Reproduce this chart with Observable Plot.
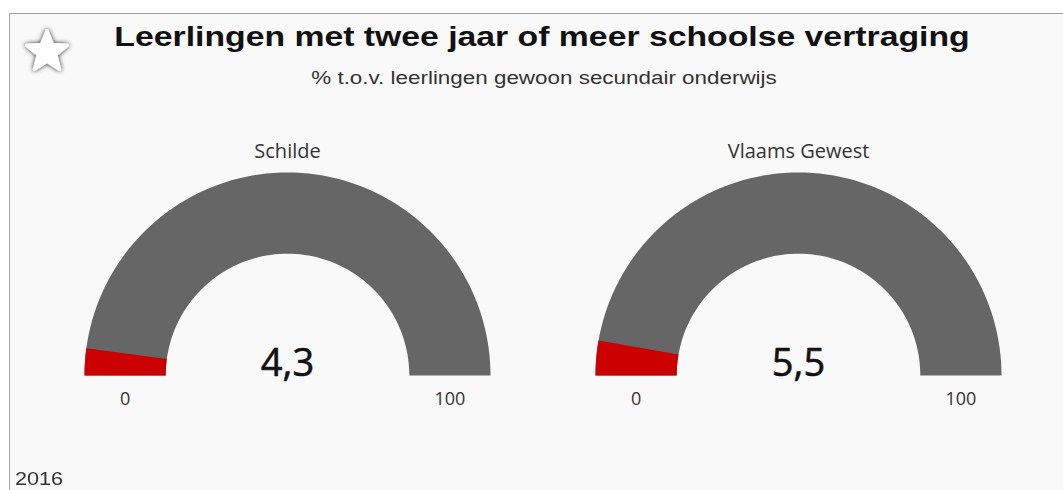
<!DOCTYPE html>
<html>
<head>
<meta charset="utf-8">
<script src="https://cdn.jsdelivr.net/npm/d3@7"></script>
<script src="https://cdn.jsdelivr.net/npm/@observablehq/plot@0.6"></script>
<style>
  html, body { margin: 0; padding: 0; background: #ffffff; width: 1063px; height: 490px; overflow: hidden; }
  #frame { position: absolute; left: 9px; top: 13px; width: 1060px; height: 480px;
           border-top: 1px solid #a3a3a3; border-left: 1px solid #a3a3a3; background: #f9f9f9; }
  .hdr { position: absolute; white-space: nowrap; font-family: "Liberation Sans", Arial, sans-serif; }
  #title { left: 541.5px; top: 24px; font-size: 27px; line-height: 27px; font-weight: bold; color: #111;
           transform: translateX(-50%) scaleX(1.25); }
  #subtitle { left: 543.5px; top: 69px; font-size: 18px; line-height: 18px; color: #333;
              transform: translateX(-50%) scaleX(1.245); }
  #year { left: 15px; top: 470px; font-size: 18px; line-height: 18px; color: #333;
          transform-origin: 0 0; transform: scaleX(1.2); }
  #star { position: absolute; left: 19px; top: 22px; width: 56px; height: 56px; }
  #chart { position: absolute; left: 0; top: 100px; }
  #chart svg { overflow: visible; }
</style>
</head>
<body>
<div id="frame"></div>
<svg id="star" viewBox="-28 -28 56 56">
  <defs>
    <filter id="glow" x="-50%" y="-50%" width="200%" height="200%">
      <feGaussianBlur in="SourceAlpha" stdDeviation="2.4"/>
      <feComponentTransfer><feFuncA type="linear" slope="0.85"/></feComponentTransfer>
      <feMerge><feMergeNode/><feMergeNode in="SourceGraphic"/></feMerge>
    </filter>
  </defs>
  <polygon id="starpoly" fill="#ffffff" stroke="#ffffff" stroke-width="3" stroke-linejoin="round" filter="url(#glow)"/>
</svg>
<div id="title" class="hdr">Leerlingen met twee jaar of meer schoolse vertraging</div>
<div id="subtitle" class="hdr">% t.o.v. leerlingen gewoon secundair onderwijs</div>
<div id="chart"></div>
<div id="year" class="hdr">2016</div>
<script>
// ---- data ----
const regions = ["Schilde", "Vlaams Gewest"];
const values = [4.3, 5.5];
const gaugeMin = 0;
const gaugeMax = 100;
const tickLabels = ["0", "100"];

// ---- star decoration ----
{
  const pts = [];
  for (let i = 0; i < 10; i++) {
    const a = -Math.PI / 2 + i * Math.PI / 5;
    const r = i % 2 === 0 ? 21.5 : 9.5;
    pts.push([r * Math.cos(a), r * Math.sin(a) + 2]);
  }
  document.getElementById("starpoly").setAttribute("points", pts.map(p => p.join(",")).join(" "));
}

// ---- gauge geometry (in radius units) ----
const R = 1, r = 0.6;
const spacing = 255.5 / 203;                 // distance of each gauge centre from the middle
const centers = regions.map((_, i) => (i - (regions.length - 1) / 2) * 2 * spacing);
const half = 520.5 / 203;

function sector(cx, from, to, id) {
  const n = 90, out = [];
  const ang = t => Math.PI * (1 - (t - gaugeMin) / (gaugeMax - gaugeMin));
  for (let k = 0; k <= n; k++) {
    const a = ang(from + (to - from) * k / n);
    out.push({id, x: cx + R * Math.cos(a), y: R * Math.sin(a)});
  }
  for (let k = n; k >= 0; k--) {
    const a = ang(from + (to - from) * k / n);
    out.push({id, x: cx + r * Math.cos(a), y: r * Math.sin(a)});
  }
  return out;
}

const bgPolys = regions.flatMap((g, i) => sector(centers[i], gaugeMin, gaugeMax, g));
const valPolys = regions.flatMap((g, i) => sector(centers[i], gaugeMin, values[i], g));

const nl = d3.formatLocale({decimal: ",", thousands: ".", grouping: [3], currency: ["€", ""]});
const fmt = nl.format(".1f");

const rows = regions.map((g, i) => ({region: g, value: values[i], cx: centers[i]}));
const ticks = regions.flatMap((g, i) => tickLabels.map((t, j) => ({
  label: t,
  x: centers[i] + (j === 0 ? -1 : 1) * (R + r) / 2
})));

const chart = Plot.plot({
  width: 1063,
  height: 330,
  marginLeft: 22,
  marginRight: 0,
  marginTop: 72,
  marginBottom: 55,
  style: {background: "transparent", overflow: "visible"},
  x: {domain: [-half, half], axis: null},
  y: {domain: [0, 1], axis: null},
  marks: [
    Plot.line(bgPolys, {x: "x", y: "y", z: "id", fill: "#666666", stroke: "none", curve: "linear"}),
    Plot.line(valPolys, {x: "x", y: "y", z: "id", fill: "#cc0000", stroke: "none", curve: "linear"}),
    Plot.text(rows, {x: "cx", y: () => 0, text: d => fmt(d.value), lineAnchor: "bottom",
      fontSize: 38, fontFamily: "Open Sans", fill: "#111", stroke: "#111", strokeWidth: 0.6}),
    Plot.text(rows, {x: "cx", y: () => 1, text: "region", lineAnchor: "bottom", dy: -15,
      fontSize: 20, fontFamily: "Open Sans", fill: "#333"}),
    Plot.text(ticks, {x: "x", y: () => 0, text: "label", lineAnchor: "bottom", dy: 29,
      fontSize: 18, fontFamily: "Open Sans", fill: "#333"})
  ]
});
document.getElementById("chart").appendChild(chart);
</script>
</body>
</html>
